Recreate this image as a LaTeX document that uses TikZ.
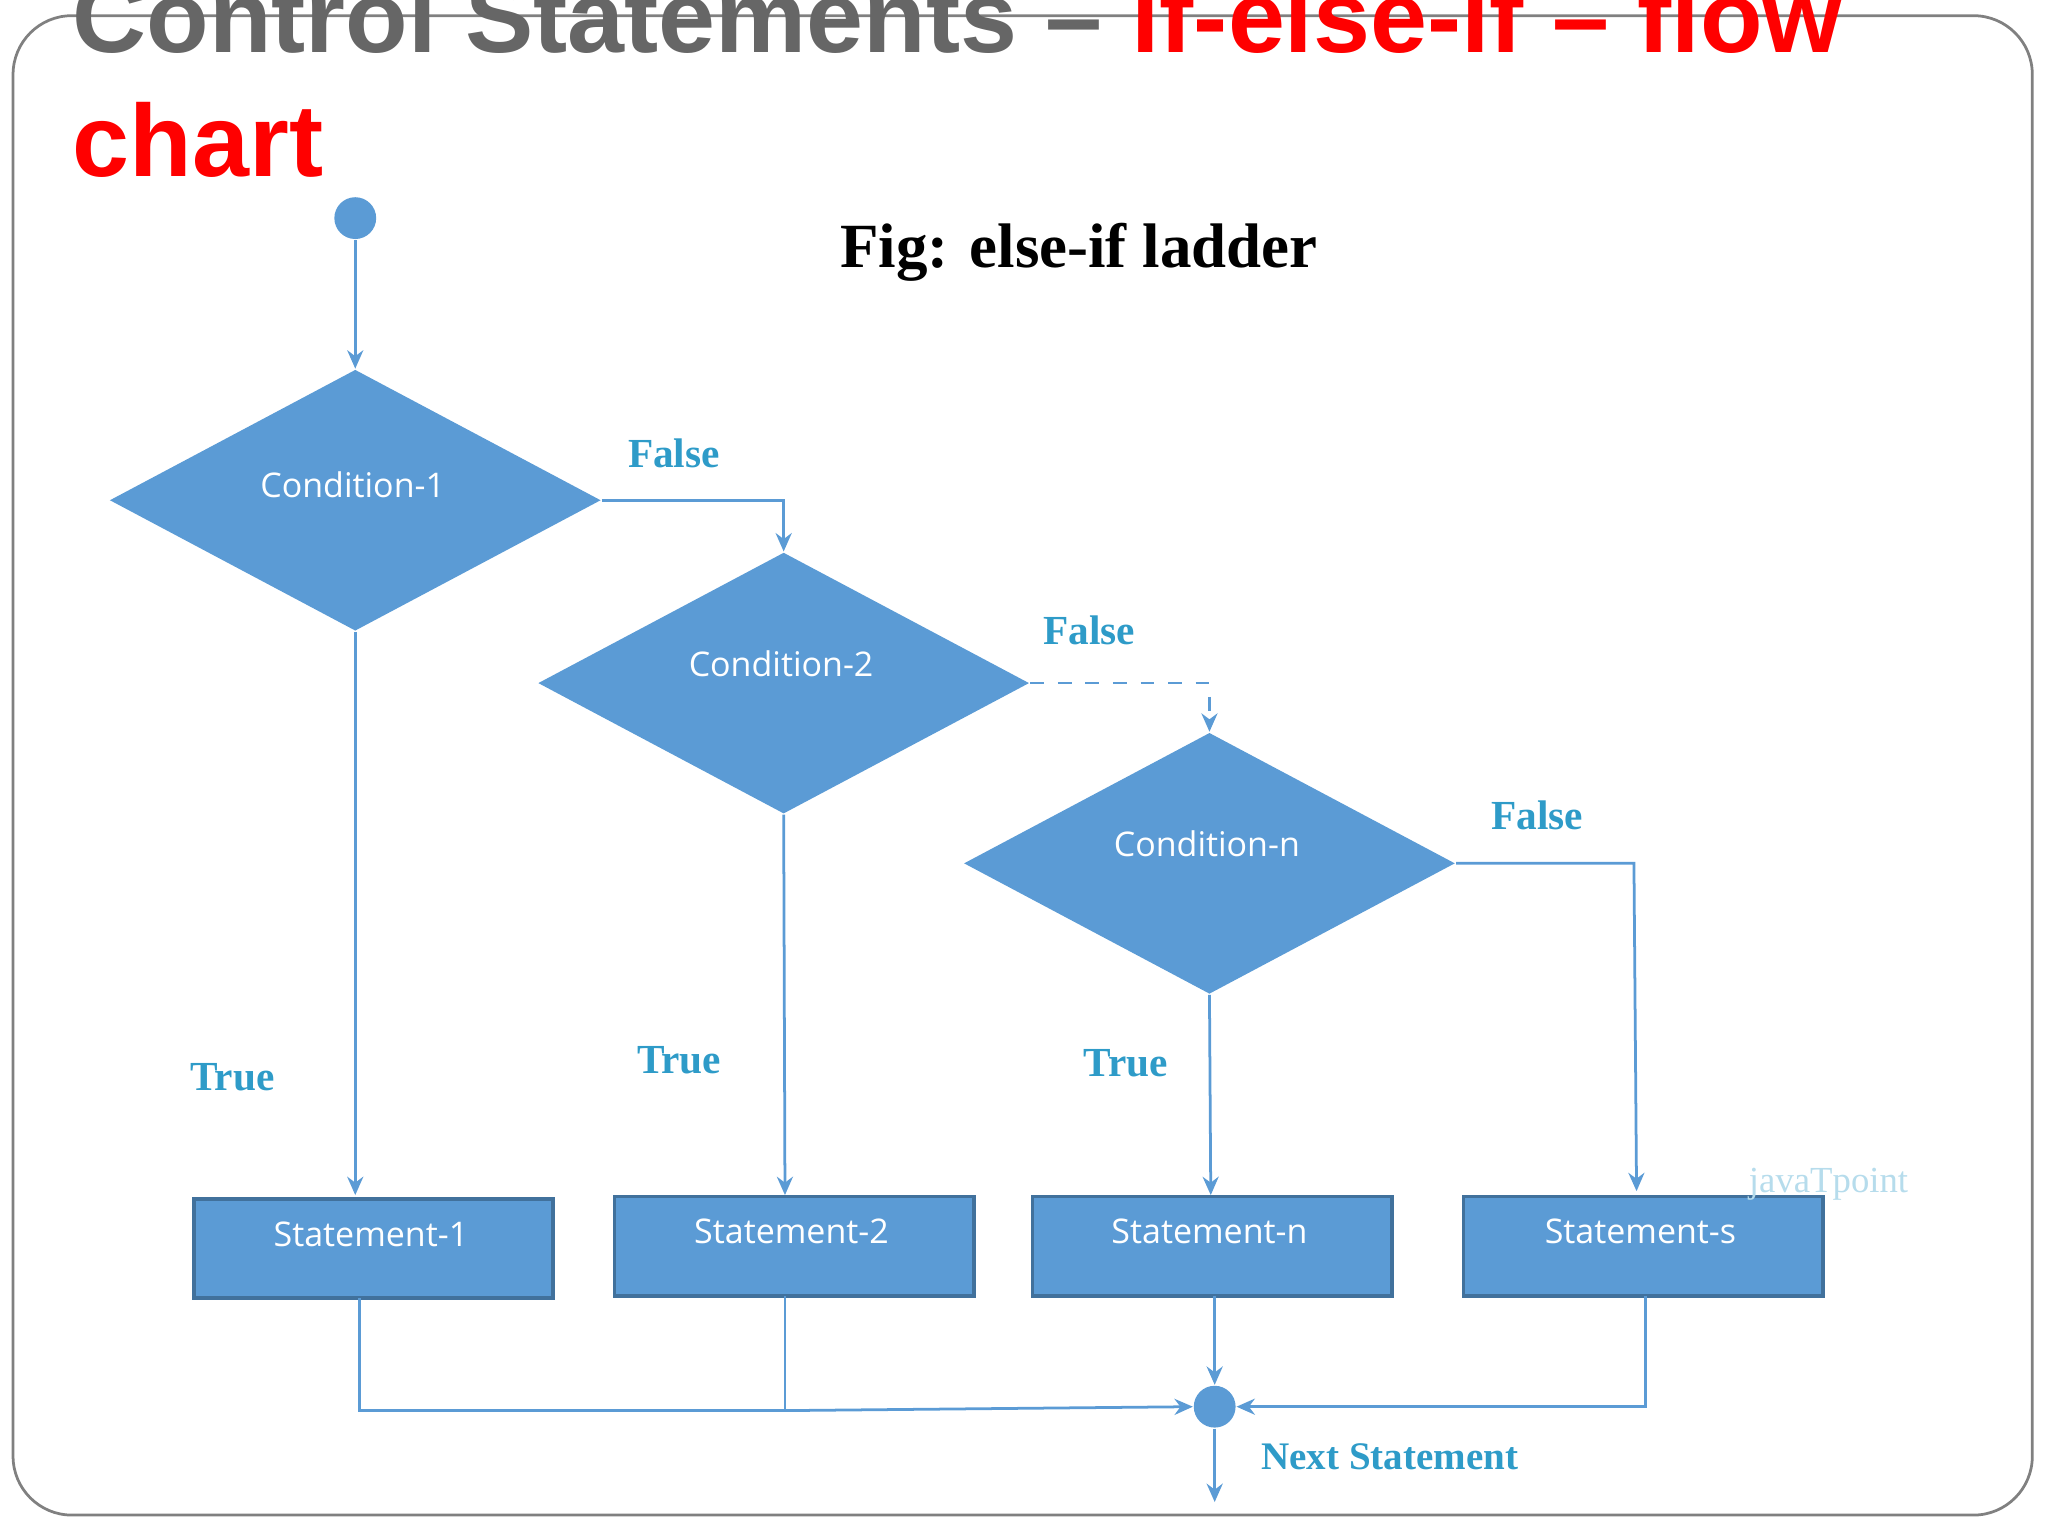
\documentclass[tikz,border=0pt]{standalone}
\usepackage{fontspec}
\setmainfont{Liberation Serif}
\newfontfamily\arial{Liberation Sans}
\newfontfamily\opensans{Open Sans}
\usetikzlibrary{shapes.geometric,arrows.meta}
\definecolor{fillb}{HTML}{5B9BD5}
\definecolor{edgeb}{HTML}{41719C}
\definecolor{lbl}{HTML}{2E9BC8}
\definecolor{ttlgray}{HTML}{666666}
\tikzset{
 cond/.style={diamond,fill=fillb,minimum width=3.76cm,minimum height=2cm,aspect=1.88,inner sep=0pt,text=white,font=\opensans\fontsize{7.4}{9}\selectfont},
 stmt/.style={rectangle,fill=fillb,draw=edgeb,line width=0.8pt,minimum width=2.75cm,minimum height=0.76cm,text=white,font=\opensans\fontsize{7.4}{9}\selectfont},
 dot/.style={circle,fill=fillb,minimum size=0.32cm,inner sep=0pt},
 conn/.style={draw=fillb,line width=0.6pt},
 arr/.style={conn,-{Stealth[length=4pt,width=3.5pt]}},
 tf/.style={text=lbl,font=\bfseries\fontsize{9}{11}\selectfont},
 lab/.style={text=white,font=\opensans\fontsize{7.4}{9}\selectfont},
}
\begin{document}
\begin{tikzpicture}[x=0.01cm,y=-0.01cm]
\useasboundingbox (0,0) rectangle (1568,1176);
\clip (0,0) rectangle (1568,1176);
\draw[gray,line width=0.6pt,rounded corners=0.45cm] (10,12) rectangle (1556,1160);
\node[anchor=base west,inner sep=0,font=\arial\bfseries\fontsize{22.3}{26}\selectfont] (t1) at (55,40) {\textcolor{ttlgray}{Control Statements – }\textcolor{red}{if-else-if – flow}};
\node[anchor=base west,inner sep=0,font=\arial\bfseries\fontsize{22.3}{26}\selectfont,text=red] (t2) at (55,135) {chart};
\node[font=\bfseries\fontsize{13.7}{16}\selectfont] (fig) at (826,193) {Fig: else-if ladder};
\node[dot] (start) at (272,167) {};
\node[cond] (c1) at (272,383) {};
\node[cond] (c2) at (600,523) {};
\node[cond] (c3) at (926,661) {};
\node[lab] (c1t) at (270,371) {Condition-1};
\node[lab] (c2t) at (598,508) {Condition-2};
\node[lab] (c3t) at (924,646) {Condition-n};
\node[stmt] (s1) at (286,956) {};
\node[stmt] (s2) at (608,954) {};
\node[stmt] (s3) at (928,954) {};
\node[stmt] (s4) at (1258,954) {};
\node[lab] (s1t) at (284,945) {Statement-1};
\node[lab] (s2t) at (606,943) {Statement-2};
\node[lab] (s3t) at (926,943) {Statement-n};
\node[lab] (s4t) at (1256,943) {Statement-s};
\node[dot] (j) at (930,1077) {};
\coordinate (end) at (930,1150);
\draw[arr] (start) -- (c1.north);
\draw[arr] (c1.east) -| (c2.north);
\draw[arr,dashed] (c2.east) -| (c3.north);
\draw[arr] (c3.east) -- (1251,661) -- (1253,912);
\draw[arr] (c1.south) -- (272,915);
\draw[arr] (c2.south) -- (601,915);
\draw[arr] (c3.south) -- (927,915);
\draw[conn] (275,994) -- (275,1080) -- (601,1080);
\draw[conn] (601,992) -- (601,1080);
\draw[arr] (601,1080) -- (j.west);
\draw[arr] (930,992) -- (j.north);
\draw[arr] (1260,992) |- (j.east);
\draw[arr] (j.south) -- (end);
\node[tf] (f1) at (516,347) {False};
\node[tf] (f2) at (834,483) {False};
\node[tf] (f3) at (1177,624) {False};
\node[tf] (tr1) at (178,825) {True};
\node[tf] (tr2) at (520,812) {True};
\node[tf] (tr3) at (862,814) {True};
\node[tf,font=\bfseries\fontsize{8.5}{10}\selectfont] (ns) at (1064,1115) {Next Statement};
\node[text=lbl!35,font=\fontsize{8}{10}\selectfont] (wm) at (1400,907) {javaTpoint};
\end{tikzpicture}
\end{document}
